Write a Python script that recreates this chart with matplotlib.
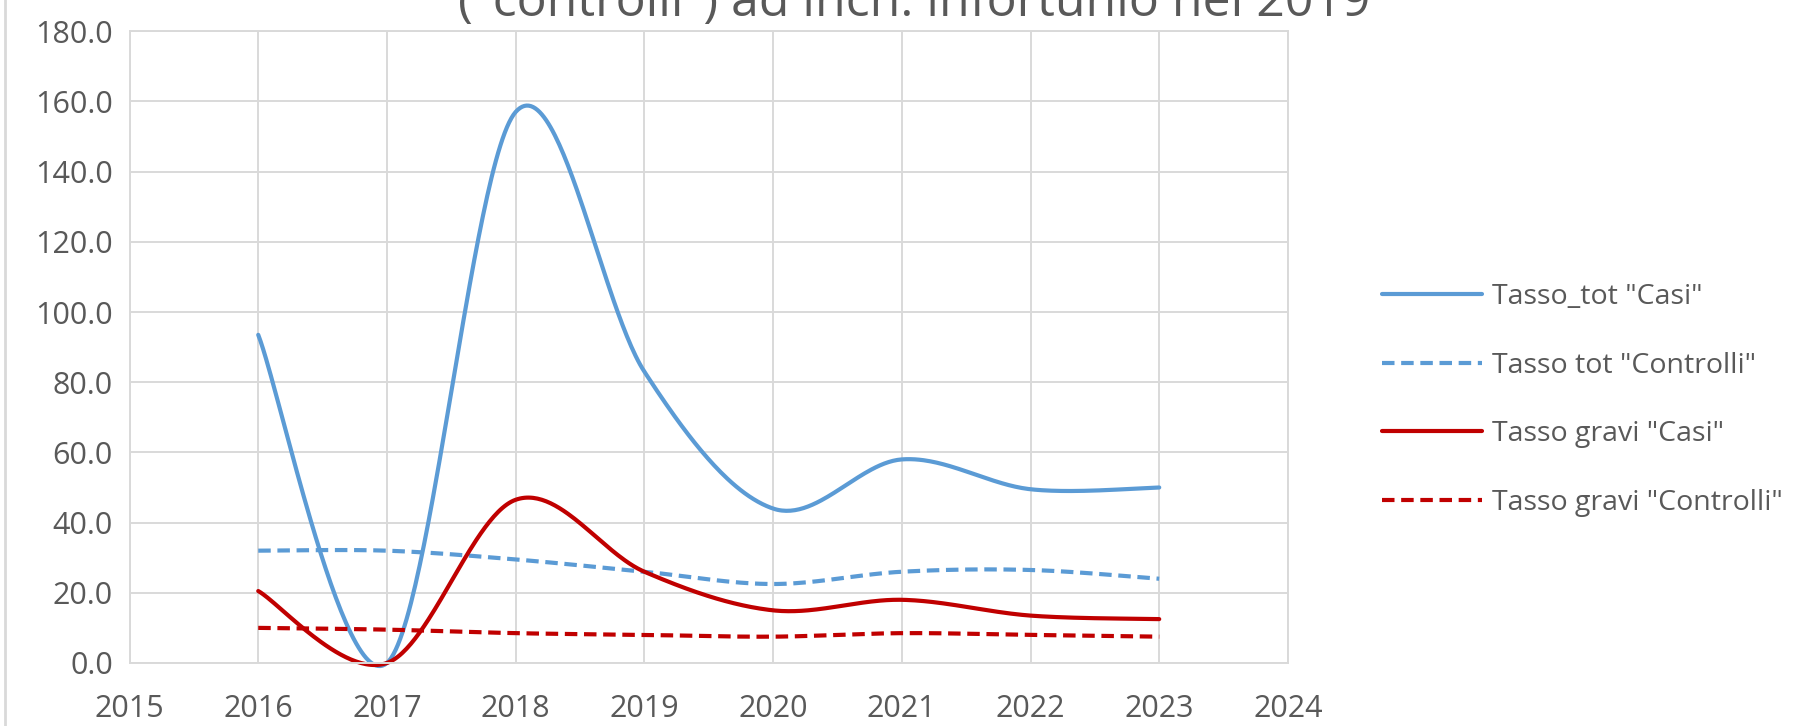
import numpy as np
import matplotlib.pyplot as plt

plt.rcParams['font.family'] = ['Open Sans', 'DejaVu Sans']

# data
years = [2016, 2017, 2018, 2019, 2020, 2021, 2022, 2023]
tot_casi = [93.5, 0.0, 157.0, 83.0, 44.0, 58.0, 49.5, 50.0]
tot_controlli = [32.0, 32.0, 29.5, 26.0, 22.5, 26.0, 26.5, 24.0]
gravi_casi = [20.5, 0.0, 46.5, 26.0, 15.0, 18.0, 13.5, 12.5]
gravi_controlli = [10.0, 9.5, 8.5, 8.0, 7.5, 8.5, 8.0, 7.5]

labels = ['Tasso_tot "Casi"', 'Tasso tot "Controlli"',
          'Tasso gravi "Casi"', 'Tasso gravi "Controlli"']
title_line = '("controlli") ad inch. infortunio nel 2019'

BLUE = '#5B9BD5'
RED = '#C00000'
GRID = '#D9D9D9'
TXT = '#595959'


def smooth(xs, ys, n=60):
    # Excel-like smoothed line: bezier segments through every point
    x = np.asarray(xs, float)
    y = np.asarray(ys, float)
    px = np.concatenate([[x[0]], x, [x[-1]]])
    py = np.concatenate([[y[0]], y, [y[-1]]])
    outx, outy = [], []
    t = np.linspace(0, 1, n)
    for i in range(1, len(px) - 2):
        p0 = np.array([px[i], py[i]])
        p3 = np.array([px[i + 1], py[i + 1]])
        p1 = p0 + (np.array([px[i + 1], py[i + 1]]) - np.array([px[i - 1], py[i - 1]])) / 6
        p2 = p3 - (np.array([px[i + 2], py[i + 2]]) - np.array([px[i], py[i]])) / 6
        b = ((1 - t) ** 3)[:, None] * p0 + (3 * (1 - t) ** 2 * t)[:, None] * p1 \
            + (3 * (1 - t) * t ** 2)[:, None] * p2 + (t ** 3)[:, None] * p3
        outx.extend(b[:, 0])
        outy.extend(b[:, 1])
    return outx, outy


fig = plt.figure(figsize=(18.14, 7.26), dpi=100)
ax = fig.add_axes([0.0714, 0.0868, 0.6386, 0.8702])

series = [(tot_casi, BLUE, '-'), (tot_controlli, BLUE, '--'),
          (gravi_casi, RED, '-'), (gravi_controlli, RED, '--')]
for (vals, col, ls), lab in zip(series, labels):
    sx, sy = smooth(years, vals)
    ln, = ax.plot(sx, sy, color=col, lw=3, ls=ls, label=lab,
                  solid_capstyle='round', clip_on=False)
    if ls == '--':
        ln.set_dashes((3, 1.6))

ax.set_xlim(2015, 2024)
ax.set_ylim(0, 180)
ax.set_xticks(range(2015, 2025))
ax.set_yticks(np.arange(0, 181, 20))
ax.set_yticklabels(['%.1f' % v for v in np.arange(0, 181, 20)])
ax.grid(True, color=GRID, lw=1.4)
ax.set_axisbelow(True)
for s in ax.spines.values():
    s.set_color(GRID)
    s.set_linewidth(1.4)
ax.tick_params(length=0, labelsize=22, colors=TXT)
ax.tick_params(axis='y', pad=12)
ax.tick_params(axis='x', pad=22)

leg = fig.legend(loc='center left', bbox_to_anchor=(0.748, 0.449),
                 frameon=False, fontsize=20.5, handlelength=3.5,
                 handletextpad=0.35, labelspacing=1.42)
for t in leg.get_texts():
    t.set_color(TXT)

fig.text(0.504, 1 - 16 / 726, title_line, ha='center', va='baseline',
         fontsize=36, color=TXT)
fig.add_artist(plt.Line2D([0.003, 0.003], [0, 1], color=GRID, lw=2,
                          transform=fig.transFigure))

fig.savefig('out.png', dpi=100)
